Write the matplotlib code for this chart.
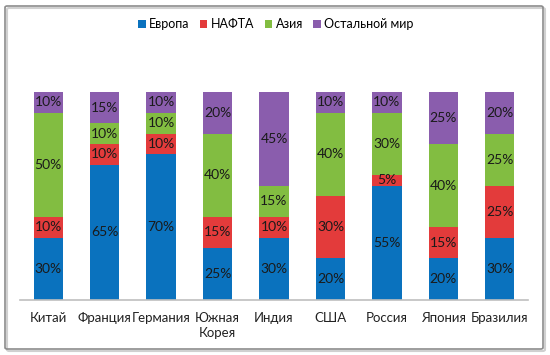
import matplotlib.pyplot as plt
from matplotlib.patches import FancyBboxPatch
import numpy as np

plt.rcParams['font.family'] = ['Lato', 'DejaVu Sans']

countries = ["Китай", "Франция", "Германия", "Южная\nКорея", "Индия",
             "США", "Россия", "Япония", "Бразилия"]
series = ["Европа", "НАФТА", "Азия", "Остальной мир"]
europe = [30, 65, 70, 25, 30, 20, 55, 20, 30]
nafta = [10, 10, 10, 15, 10, 30, 5, 15, 25]
asia = [50, 10, 10, 40, 15, 40, 30, 40, 25]
rest = [10, 15, 10, 20, 45, 10, 10, 25, 20]
colors = ["#0A72BE", "#E33B3B", "#82BD41", "#8A5DAD"]

fig = plt.figure(figsize=(5.5, 3.55), dpi=100)
ax = fig.add_axes([20 / 550, 1 - 300 / 355, 508 / 550, 208 / 355])

x = np.arange(len(countries))
bottom = np.zeros(len(countries))
for name, vals, col in zip(series, [europe, nafta, asia, rest], colors):
    vals = np.array(vals)
    ax.bar(x, vals, 0.52, bottom=bottom, color=col, label=name)
    for xi, b, v in zip(x, bottom, vals):
        ax.text(xi, b + v / 2, f"{v}%", ha="center", va="center",
                fontsize=10, color="#1a1a1a")
    bottom += vals

ax.set_xlim(-0.5, len(countries) - 0.5)
ax.set_ylim(0, 100)
ax.set_yticks([])
ax.set_xticks(x)
ax.set_xticklabels(countries, fontsize=9.5, color="#222222", linespacing=1.25)
ax.tick_params(axis="x", length=0, pad=9)
for side in ["top", "right", "left"]:
    ax.spines[side].set_visible(False)
ax.spines["bottom"].set_color("#bfbfbf")
ax.spines["bottom"].set_linewidth(1.2)

fig.legend(loc="center", bbox_to_anchor=(276 / 550, 1 - 24 / 355), ncol=4,
           frameon=False, fontsize=9, handlelength=0.6, handleheight=0.6,
           handletextpad=0.3, columnspacing=0.8)

# light shadow then the gray frame
shadow = FancyBboxPatch((7 / 550, 4 / 355), 538 / 550, 343 / 355,
                        boxstyle="round,pad=0,rounding_size=0.004",
                        transform=fig.transFigure, fill=False,
                        edgecolor="#d0d0d0", linewidth=1.5)
frame = FancyBboxPatch((5 / 550, 6 / 355), 538 / 550, 343 / 355,
                       boxstyle="round,pad=0,rounding_size=0.004",
                       transform=fig.transFigure, fill=False,
                       edgecolor="#8c8c8c", linewidth=1.2)
fig.patches.append(shadow)
fig.patches.append(frame)

fig.savefig("out.png", dpi=100)
